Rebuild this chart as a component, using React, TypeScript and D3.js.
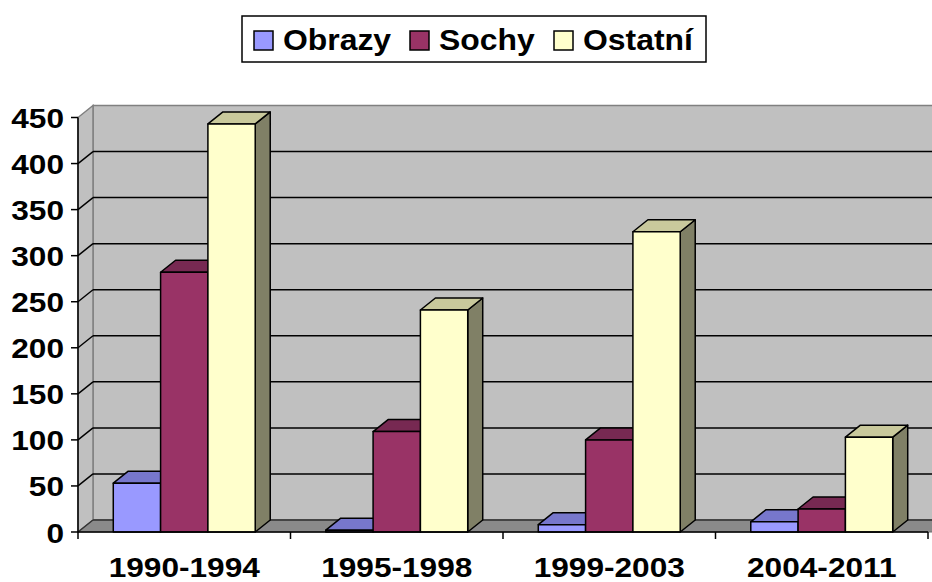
import React from "react";
import * as d3 from "d3";

const categories = ["1990-1994", "1995-1998", "1999-2003", "2004-2011"];
const seriesNames = ["Obrazy", "Sochy", "Ostatní"];
const obrazy = [53, 2, 8, 11];
const sochy = [282, 109, 100, 25];
const ostatni = [443, 241, 326, 103];
const yTicks = [0, 50, 100, 150, 200, 250, 300, 350, 400, 450];

const seriesValues = [obrazy, sochy, ostatni];
const frontColors = ["#9999FF", "#993366", "#FFFFCC"];
const topColors = ["#7777CC", "#772952", "#C9C99C"];
const sideColors = ["#5C5C99", "#5C1F3D", "#808066"];
const legendX = [254, 410, 554];

const W = 932;
const H = 582;
const DX = 15;
const DY = -12;
const FONT = "'Liberation Sans', Arial, Helvetica, sans-serif";
const SX = 1.13;

export default function App() {
  const x = d3.scaleBand<string>().domain(categories).range([78, 928]).paddingInner(0.332).paddingOuter(0.166);
  const xs = d3.scaleBand<string>().domain(seriesNames).range([0, x.bandwidth()]).padding(0);
  const y = d3.scaleLinear().domain([0, 450]).range([532, 117.5]);
  const y0 = y(0);
  const yTop = y(450);
  const xL = 78;
  const xR = 928;
  const pts = (a: number[][]) => a.map((p) => p.join(",")).join(" ");

  return (
    <svg width={W} height={H} style={{ position: "absolute", left: 0, top: 0, background: "#fff" }} fontFamily={FONT} fontWeight="bold">
      {/* legend */}
      <rect x={242} y={16} width={464} height={46} fill="#fff" stroke="#000" strokeWidth={1.5} />
      {seriesNames.map((s, i) => (
        <g key={s}>
          <rect x={legendX[i]} y={31} width={19} height={19} fill={frontColors[i]} stroke="#000" strokeWidth={1.5} />
          <text transform={`translate(${legendX[i] + 29},50) scale(1.1,1)`} fontSize={29} fill="#000">{s}</text>
        </g>
      ))}

      {/* walls */}
      <rect x={xL + DX} y={yTop + DY} width={xR - xL + 20} height={y0 - yTop} fill="#C0C0C0" stroke="#808080" strokeWidth={1.5} />
      <polygon points={pts([[xL, y0], [xL, yTop], [xL + DX, yTop + DY], [xL + DX, y0 + DY]])} fill="#C0C0C0" stroke="#808080" strokeWidth={1.5} />
      <polygon points={pts([[xL, y0], [xL + DX, y0 + DY], [xR + DX + 20, y0 + DY], [xR + 20, y0]])} fill="#8A8A8A" stroke="#6A6A6A" strokeWidth={1} />

      {/* gridlines */}
      {yTicks.filter((t) => t < 450).map((t) => (
        <g key={t} stroke={t === 0 ? "#333" : "#000"} strokeWidth={1.5}>
          <line x1={xL + DX} x2={W + 20} y1={y(t) + DY} y2={y(t) + DY} />
          <line x1={xL} x2={xL + DX} y1={y(t)} y2={y(t) + DY} />
        </g>
      ))}

      {/* bars */}
      {categories.map((c, ci) => (
        <g key={c} stroke="#000" strokeWidth={1.5} strokeLinejoin="round">
          {seriesNames.map((s, si) => {
            const v = seriesValues[si][ci];
            const x0 = (x(c) as number) + (xs(s) as number);
            const w = xs.bandwidth();
            const yv = y(v);
            return (
              <g key={s}>
                <polygon fill={sideColors[si]} points={pts([[x0 + w, yv], [x0 + w + DX, yv + DY], [x0 + w + DX, y0 + DY], [x0 + w, y0]])} />
                <polygon fill={topColors[si]} points={pts([[x0, yv], [x0 + DX, yv + DY], [x0 + w + DX, yv + DY], [x0 + w, yv]])} />
                <rect x={x0} y={yv} width={w} height={y0 - yv} fill={frontColors[si]} />
              </g>
            );
          })}
        </g>
      ))}

      {/* axes */}
      <g stroke="#000" strokeWidth={1.5}>
        <line x1={xL} x2={xL} y1={yTop} y2={y0 + 7} />
        <line x1={xL} x2={xR} y1={y0} y2={y0} />
        {yTicks.map((t) => (
          <line key={t} x1={xL - 7} x2={xL} y1={y(t)} y2={y(t)} />
        ))}
        {categories.map((c) => (
          <line key={c} x1={(x(c) as number) - (x.step() - x.bandwidth()) / 2 + x.step()} x2={(x(c) as number) - (x.step() - x.bandwidth()) / 2 + x.step()} y1={y0} y2={y0 + 7} />
        ))}
      </g>
      {yTicks.map((t) => (
        <text key={t} transform={`translate(64,${y(t) + 10.5}) scale(${SX},1)`} textAnchor="end" fontSize={28} fill="#000">{t}</text>
      ))}
      {categories.map((c) => (
        <text key={c} transform={`translate(${(x(c) as number) + x.bandwidth() / 2},577) scale(${SX},1)`} textAnchor="middle" fontSize={28} fill="#000">{c}</text>
      ))}
    </svg>
  );
}
